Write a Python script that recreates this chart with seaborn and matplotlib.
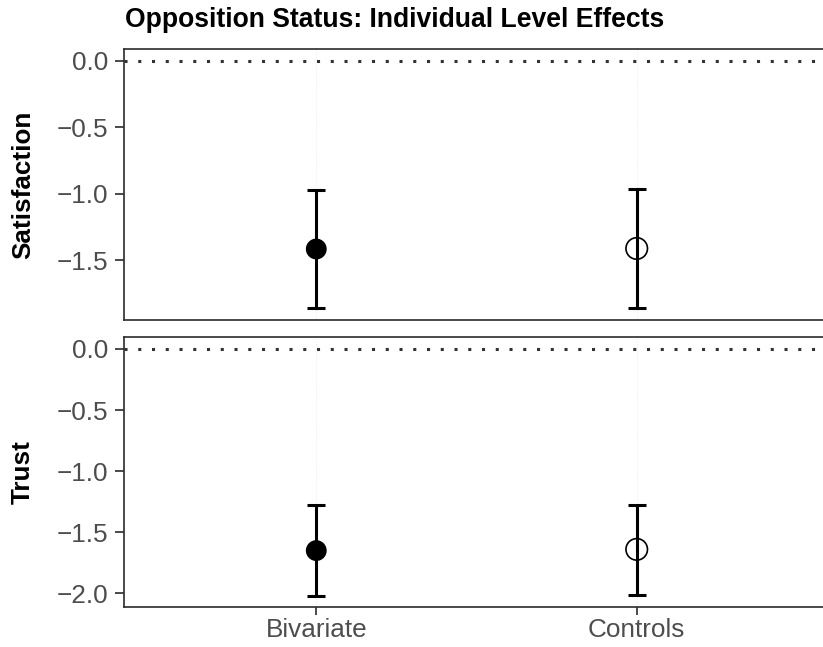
import matplotlib
matplotlib.use("Agg")
import matplotlib.pyplot as plt
import seaborn as sns
import pandas as pd

# ---- data ----
models = ["Bivariate", "Controls"]
outcomes = ["Satisfaction", "Trust"]
sat_est = [-1.417, -1.413]
sat_lo = [-1.860, -1.862]
sat_hi = [-0.970, -0.965]
trust_est = [-1.650, -1.640]
trust_lo = [-2.020, -2.010]
trust_hi = [-1.280, -1.277]
title = "Opposition Status: Individual Level Effects"
ylims = {"Satisfaction": (-1.952, 0.088), "Trust": (-2.114, 0.10)}
yticks = {"Satisfaction": [0.0, -0.5, -1.0, -1.5],
          "Trust": [0.0, -0.5, -1.0, -1.5, -2.0]}

df = pd.DataFrame({
    "model": models * 2,
    "outcome": [outcomes[0]] * 2 + [outcomes[1]] * 2,
    "est": sat_est + trust_est,
    "lo": sat_lo + trust_lo,
    "hi": sat_hi + trust_hi,
})

sns.set_theme(style="white")
plt.rcParams["font.family"] = ["Liberation Sans", "DejaVu Sans"]
plt.rcParams["axes.unicode_minus"] = True

W, H = 823, 647
fig = plt.figure(figsize=(W / 100, H / 100), dpi=100)

left_px, right_px = 124, 829
panels = {"Satisfaction": (49.3, 320.0), "Trust": (336.7, 607.3)}

border = "#333333"
tickcol = "#4D4D4D"
fs = 18.8

axes = {}
for name, (top, bot) in panels.items():
    ax = fig.add_axes([left_px / W, 1 - bot / H, (right_px - left_px) / W, (bot - top) / H])
    axes[name] = ax

for name in outcomes:
    ax = axes[name]
    sub = df[df["outcome"] == name].reset_index(drop=True)
    # vertical grid
    for i in range(len(models)):
        ax.axvline(i, color="#E3E3E3", lw=0.6, ls=(0, (1, 2)), zorder=0)
    ax.axhline(0, color="#333333", lw=2.2, ls=(0, (1, 3.5)), zorder=1)
    ax.errorbar(sub["model"], sub["est"],
                yerr=[sub["est"] - sub["lo"], sub["hi"] - sub["est"]],
                fmt="none", ecolor="black", elinewidth=2.2, capsize=6.2,
                capthick=2.2, zorder=2)
    sns.scatterplot(data=sub[sub["model"] == "Bivariate"], x="model", y="est",
                    ax=ax, color="black", s=15 ** 2, marker="o",
                    edgecolor="none", zorder=3, legend=False)
    sns.scatterplot(data=sub[sub["model"] == "Controls"], x="model", y="est",
                    ax=ax, facecolor="none", edgecolor="black", s=15.5 ** 2,
                    marker="o", linewidth=1.2, zorder=3, legend=False)
    ax.set_xlim(-0.6, 1.6)
    ax.set_ylim(*ylims[name])
    ax.set_yticks(yticks[name])
    ax.set_yticklabels([f"{v:.1f}".replace("-", "\u2212") for v in yticks[name]])
    for sp in ax.spines.values():
        sp.set_color(border)
        sp.set_linewidth(1.25)
    ax.tick_params(axis="y", which="both", left=True, length=6.5, width=1.25,
                   color=border, labelsize=fs, labelcolor=tickcol, pad=5)
    ax.set_xlabel("")
    ax.set_ylabel(name, fontsize=fs, fontweight="bold", color="black")
    ax.yaxis.label.set_va("center")
    ax.yaxis.set_label_coords((23 - left_px) / (right_px - left_px), 0.5)

top_ax = axes["Satisfaction"]
bot_ax = axes["Trust"]
top_ax.tick_params(axis="x", bottom=False, labelbottom=False)
bot_ax.tick_params(axis="x", bottom=True, length=6, width=1.25, color=border,
                   labelsize=fs, labelcolor=tickcol, pad=2)
bot_ax.set_xticks(range(len(models)))
bot_ax.set_xticklabels(models)

fig.text(125 / W, 1 - 27 / H, title, ha="left", va="baseline",
         fontsize=19.1, fontweight="bold", color="black")

fig.savefig("out.png", dpi=100)
